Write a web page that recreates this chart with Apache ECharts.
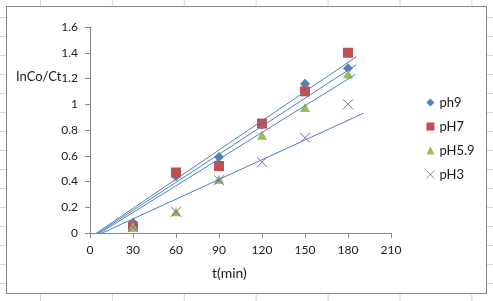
<!DOCTYPE html>
<html>
<head>
<meta charset="utf-8">
<script src="https://cdn.jsdelivr.net/npm/echarts@6/dist/echarts.min.js"></script>
<style>
html,body{margin:0;padding:0;width:493px;height:301px;overflow:hidden;}
body{
  background-color:#fff;
  background-image:
    linear-gradient(to right, #d8d8d8 1px, transparent 1px),
    linear-gradient(to bottom, #d8d8d8 1px, transparent 1px);
  background-size:71.9px 19px;
  background-position:40px 17px;
}
#frame{position:absolute;left:6px;top:6px;width:481px;height:288px;box-sizing:border-box;background:#fff;border:1px solid #868686;}
#chart{position:absolute;left:0;top:0;width:493px;height:301px;}
</style>
</head>
<body>
<div id="frame"></div>
<div id="chart"></div>
<script>
// ---- data ----
const tValues = [30, 60, 90, 120, 150, 180];
const ph9  = [0.08, 0.44, 0.59, 0.84, 1.16, 1.28];
const pH7  = [0.05, 0.47, 0.52, 0.85, 1.10, 1.40];
const pH59 = [0.05, 0.165, 0.417, 0.76, 0.975, 1.235];
const pH3  = [0.045, 0.165, 0.41, 0.55, 0.74, 1.00];
const seriesNames = ['ph9', 'pH7', 'pH5.9', 'pH3'];
// trendline endpoints: [t, value]
const trendPH7  = [[2, -0.02], [186, 1.37]];
const trendPH9  = [[3, -0.02], [185.6, 1.305]];
const trendPH59 = [[4, -0.02], [185.3, 1.232]];
const trendPH3  = [[5, -0.018], [190.7, 0.93]];
const xTicks = [0, 30, 60, 90, 120, 150, 180, 210];
const yTicks = [0, 0.2, 0.4, 0.6, 0.8, 1, 1.2, 1.4, 1.6];
const yAxisTitle = 'InCo/Ct';
const xAxisTitle = 't(min)';

const FONT = 'Lato, "Open Sans", sans-serif';
const pair = arr => tValues.map((t, i) => [t, arr[i]]);
const xPath = 'path://M0,0L10,10M10,0L0,10';

const chart = echarts.init(document.getElementById('chart'), null, {renderer: 'canvas'});
const trendStyle = {color: '#4F81BD', width: 1};
const trend = d => ({type: 'line', data: d, showSymbol: false, symbol: 'none', silent: true, z: 5,
  lineStyle: trendStyle, itemStyle: {color: '#4F81BD'}});

chart.setOption({
  animation: false,
  backgroundColor: 'transparent',
  textStyle: {fontFamily: FONT},
  grid: {left: 90, top: 27, right: 102, bottom: 68, containLabel: false},
  xAxis: {
    type: 'value', min: xTicks[0], max: xTicks[xTicks.length - 1], interval: xTicks[1] - xTicks[0],
    axisLine: {show: true, lineStyle: {color: '#868686', width: 1}},
    axisTick: {show: true, inside: false, length: 5, lineStyle: {color: '#868686'}},
    axisLabel: {color: '#1a1a1a', fontSize: 12, margin: 11, fontFamily: FONT},
    splitLine: {show: false}
  },
  yAxis: {
    type: 'value', min: yTicks[0], max: yTicks[yTicks.length - 1], interval: 0.2,
    axisLine: {show: true, lineStyle: {color: '#868686', width: 1}},
    axisTick: {show: true, inside: false, length: 5, lineStyle: {color: '#868686'}},
    axisLabel: {color: '#1a1a1a', fontSize: 12, margin: 12, fontFamily: FONT,
      formatter: v => String(Math.round(v * 10) / 10)},
    splitLine: {show: false}
  },
  legend: {
    orient: 'vertical', left: 421, top: 90, itemWidth: 8, itemHeight: 8, itemGap: 9,
    textStyle: {fontSize: 13, color: '#1a1a1a', fontFamily: FONT, lineHeight: 15},
    data: [
      {name: seriesNames[0], icon: 'diamond'},
      {name: seriesNames[1], icon: 'rect'},
      {name: seriesNames[2], icon: 'triangle'},
      {name: seriesNames[3], icon: xPath, itemStyle: {borderWidth: 0.8}}
    ]
  },
  graphic: [
    {type: 'text', left: 16, top: 70, style: {text: yAxisTitle, fontSize: 13, fill: '#1a1a1a', fontFamily: FONT}},
    {type: 'text', left: 212, top: 266, style: {text: xAxisTitle, fontSize: 14, fill: '#1a1a1a', fontFamily: FONT}}
  ],
  series: [
    {name: seriesNames[0], type: 'scatter', data: pair(ph9), symbol: 'diamond', symbolSize: 10, z: 3,
      itemStyle: {color: '#4F81BD', opacity: 1}},
    {name: seriesNames[1], type: 'scatter', data: pair(pH7), symbol: 'rect', symbolSize: 10, z: 3,
      itemStyle: {color: '#C0504D', opacity: 1}},
    {name: seriesNames[2], type: 'scatter', data: pair(pH59), symbol: 'triangle', symbolSize: [10, 9], z: 3,
      itemStyle: {color: '#9BBB59', opacity: 1}},
    {name: seriesNames[3], type: 'scatter', data: pair(pH3), symbol: xPath, symbolSize: 10, z: 4,
      itemStyle: {color: 'transparent', borderColor: '#8064A2', borderWidth: 1, opacity: 1}},
    trend(trendPH7), trend(trendPH9), trend(trendPH59), trend(trendPH3)
  ]
});
</script>
</body>
</html>
